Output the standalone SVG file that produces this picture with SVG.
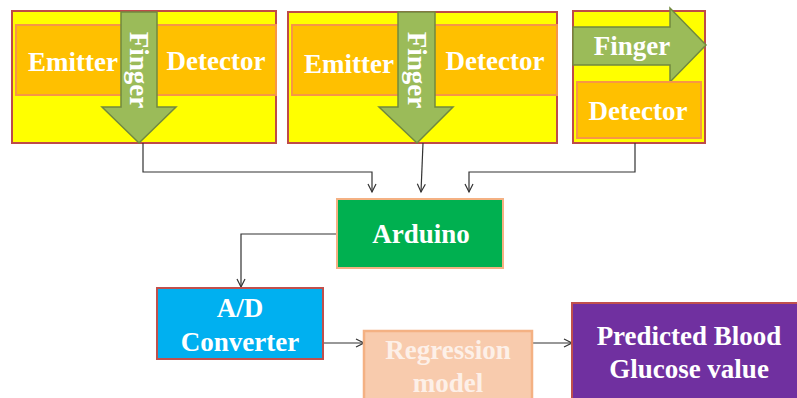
<svg xmlns="http://www.w3.org/2000/svg" width="797" height="398" viewBox="0 0 797 398">
<defs>
<marker id="arr" markerWidth="12" markerHeight="12" refX="9" refY="5" orient="auto" markerUnits="userSpaceOnUse">
<path d="M1,1 L9,5 L1,9" fill="none" stroke="#333" stroke-width="1.2"/>
</marker>
</defs>
<style>
.outer{fill:#FFFF00;stroke:#BE4B48;stroke-width:2}
.inner{fill:#FFC000;stroke:#F79646;stroke-width:2}
.finger{fill:#9BBB59;stroke:#71893F;stroke-width:1.5}
.t{font-family:"Liberation Serif","Times New Roman",serif;font-weight:bold;font-size:27px;fill:#FFFFFF;text-anchor:middle}
.conn{fill:none;stroke:#333;stroke-width:1.2}
</style>
<rect width="797" height="398" fill="#FFFFFF"/>
<g id="sensor1">
<rect class="outer" x="12" y="11" width="264" height="132"/>
<rect class="inner" x="16" y="25" width="260" height="70"/>
<text class="t" x="73" y="71">Emitter</text>
<text class="t" x="216" y="70">Detector</text>
<path class="finger" d="M121,12 L157,12 L157,107 L176,107 L139,143 L102,107 L121,107 Z"/>
<text class="t" transform="translate(139,70) rotate(90)" x="0" y="9">Finger</text>
</g>
<g id="sensor2">
<rect class="outer" x="288" y="12" width="269" height="131"/>
<rect class="inner" x="292" y="25" width="265" height="70"/>
<text class="t" x="349" y="73">Emitter</text>
<text class="t" x="495" y="70">Detector</text>
<path class="finger" d="M398,12 L435,12 L435,107 L453,107 L417,143 L379,107 L398,107 Z"/>
<text class="t" transform="translate(417,70) rotate(90)" x="0" y="9">Finger</text>
</g>
<g id="sensor3">
<rect class="outer" x="573" y="11" width="132" height="132"/>
<path class="finger" d="M573,27 L670,27 L670,8 L706,45 L670,82 L670,65 L573,65 Z"/>
<text class="t" x="632" y="55">Finger</text>
<rect class="inner" x="577" y="82" width="124" height="56"/>
<text class="t" x="638" y="120">Detector</text>
</g>
<g id="connectors">
<path class="conn" d="M143,143 L143,172 L372,172 L372,192" marker-end="url(#arr)"/>
<path class="conn" d="M423,143 L421,192" marker-end="url(#arr)"/>
<path class="conn" d="M635,143 L635,172 L469,172 L469,192" marker-end="url(#arr)"/>
<path class="conn" d="M337,234 L241,234 L241,287" marker-end="url(#arr)"/>
<path class="conn" d="M323,343 L364,343" marker-end="url(#arr)"/>
<path class="conn" d="M532,343 L572,343" marker-end="url(#arr)"/>
</g>
<g id="arduino">
<rect x="337" y="199" width="166" height="69" fill="#00B050" stroke="#F4B183" stroke-width="2"/>
<text class="t" x="421" y="243">Arduino</text>
</g>
<g id="adconverter">
<rect x="157" y="288" width="166" height="71" fill="#00B0F0" stroke="#C0504D" stroke-width="2"/>
<text class="t" x="240" y="317">A/D</text>
<text class="t" x="240" y="351">Converter</text>
</g>
<g id="regression">
<rect x="364" y="331" width="168" height="80" fill="#F8CBAD" stroke="#F4B183" stroke-width="2.5"/>
<text class="t" x="448" y="359" style="fill:#FDF0E8">Regression</text>
<text class="t" x="448" y="392" style="fill:#FDF0E8">model</text>
</g>
<g id="predicted">
<rect x="572" y="303" width="240" height="110" fill="#7030A0" stroke="#C0504D" stroke-width="2"/>
<text class="t" x="689" y="345">Predicted Blood</text>
<text class="t" x="689" y="378">Glucose value</text>
</g>
</svg>
